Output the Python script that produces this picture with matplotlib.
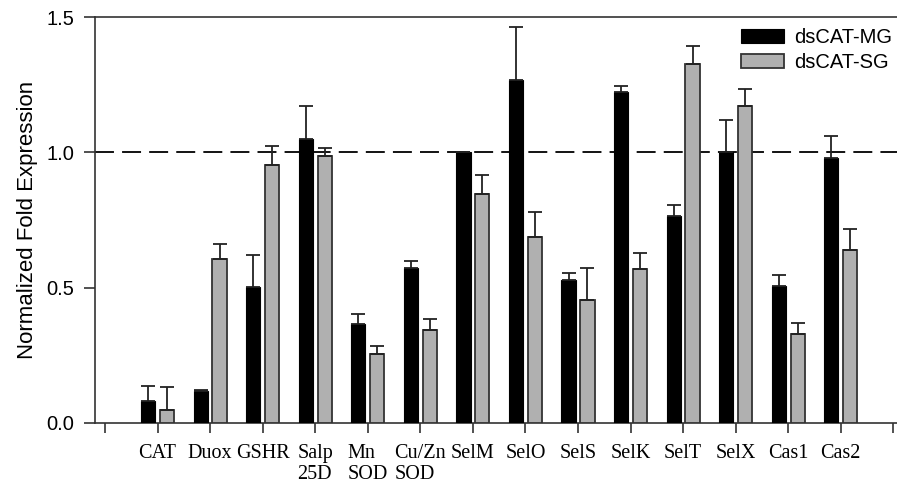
import matplotlib
matplotlib.use("Agg")
import matplotlib.pyplot as plt
import numpy as np
from matplotlib.patches import Patch

categories = ["CAT", "Duox", "GSHR", "Salp\n25D", "Mn\nSOD", "Cu/Zn\nSOD", "SelM", "SelO",
              "SelS", "SelK", "SelT", "SelX", "Cas1", "Cas2"]
mg_values = [0.081, 0.118, 0.502, 1.050, 0.365, 0.572, 1.002, 1.269, 0.530, 1.223, 0.764, 1.000, 0.506, 0.978]
mg_errors = [0.057, 0.004, 0.120, 0.121, 0.039, 0.028, 0.000, 0.195, 0.024, 0.021, 0.041, 0.120, 0.040, 0.081]
sg_values = [0.048, 0.606, 0.955, 0.986, 0.254, 0.342, 0.847, 0.686, 0.454, 0.568, 1.326, 1.170, 0.330, 0.641]
sg_errors = [0.085, 0.054, 0.067, 0.031, 0.032, 0.041, 0.069, 0.093, 0.120, 0.059, 0.068, 0.064, 0.040, 0.075]
series_names = ["dsCAT-MG", "dsCAT-SG"]
y_ticks = [0.0, 0.5, 1.0, 1.5]

fig = plt.figure(figsize=(8.97, 4.83), dpi=100)
ax = fig.add_axes([95 / 897, 60 / 483, 1 - 95 / 897, 406 / 483])

x = np.arange(1, len(categories) + 1)
w = 0.27
off = 0.18
edge = "#333333"
gray = "#b0b0b0"

ax.bar(x - off, mg_values, w, color="black", edgecolor="black", linewidth=0.8, zorder=3)
ax.bar(x + off, sg_values, w, color=gray, edgecolor=edge, linewidth=1.3, zorder=3)
ax.errorbar(x - off, mg_values, yerr=[np.zeros(len(x)), mg_errors], fmt="none",
            ecolor="#222222", elinewidth=1.3, capsize=5, capthick=1.3, zorder=4)
ax.errorbar(x + off, sg_values, yerr=[np.zeros(len(x)), sg_errors], fmt="none",
            ecolor="#222222", elinewidth=1.3, capsize=5, capthick=1.3, zorder=4)

ax.axhline(1.0, color="black", linewidth=1.3, dashes=(10.5, 4.5), zorder=2)

ax.set_xlim(-0.19, 15.07)
ax.set_ylim(0, 1.5)
ax.set_xticks(np.arange(0, 16))
ax.set_xticklabels([""] + categories + [""], family="Liberation Serif", fontsize=14.5,
                   multialignment="left", linespacing=1.15)
ax.set_yticks(y_ticks)
ax.set_yticklabels([f"{t:.1f}" for t in y_ticks], family="Liberation Sans", fontsize=14.5)

for s in ["left", "bottom", "top"]:
    ax.spines[s].set_color("#333333")
    ax.spines[s].set_linewidth(1.2)
ax.spines["right"].set_visible(False)
ax.tick_params(axis="y", direction="out", length=8, width=1.2, color="#333333", pad=7)
ax.tick_params(axis="x", direction="out", length=7, width=1.2, color="#333333", pad=8)

ax.set_ylabel("Normalized Fold Expression", family="Liberation Sans", fontsize=16, labelpad=6)

handles = [Patch(facecolor="black", edgecolor="black", linewidth=0.8),
           Patch(facecolor=gray, edgecolor=edge, linewidth=1.3)]
leg = ax.legend(handles, series_names, loc="upper left", bbox_to_anchor=(741 / 897, 1 - 28 / 483),
                bbox_transform=fig.transFigure, frameon=False, prop={"family": "Liberation Sans", "size": 14.5},
                handlelength=2.15, handleheight=0.7, handletextpad=0.5, labelspacing=0.3, borderpad=0,
                borderaxespad=0)

fig.savefig("out.png", dpi=100)
